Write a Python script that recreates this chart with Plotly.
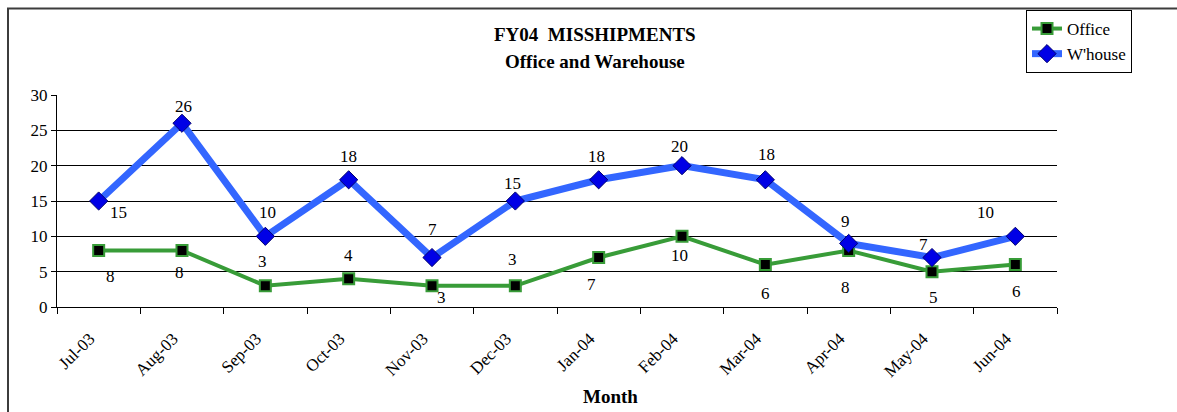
import plotly.graph_objects as go

months = ["Jul-03", "Aug-03", "Sep-03", "Oct-03", "Nov-03", "Dec-03",
          "Jan-04", "Feb-04", "Mar-04", "Apr-04", "May-04", "Jun-04"]
office = [8, 8, 3, 4, 3, 3, 7, 10, 6, 8, 5, 6]
warehouse = [15, 26, 10, 18, 7, 15, 18, 20, 18, 9, 7, 10]

# data-label offsets in pixels (xshift, yshift) - styling only
office_lbl = [(12, -26), (-3, -22), (-3, 24), (0, 23), (9, -12), (-3, 26),
              (-7, -27), (-3, -19), (0, -29), (-3, -37), (1, -26), (1, -27)]
wh_lbl = [(20, -11), (1, 17), (2, 24), (0, 23), (0, 28), (-3, 18),
          (-2, 23), (-3, 19), (1, 25), (-3, 22), (-9, 13), (-30, 24)]

SERIF = "Liberation Serif, Times New Roman, serif"

W, H = 1177, 412
fig = go.Figure()
fig.add_trace(go.Scatter(
    x=months, y=office, name="Office", mode="lines+markers",
    line=dict(color="rgb(56,156,56)", width=4),
    marker=dict(symbol="square", size=11, color="black",
                line=dict(color="rgb(56,156,56)", width=2)),
))
fig.add_trace(go.Scatter(
    x=months, y=warehouse, name="W'house", mode="lines+markers",
    line=dict(color="rgb(51,102,255)", width=7),
    marker=dict(symbol="diamond", size=14, color="rgb(0,0,230)",
                line=dict(color="rgb(0,0,110)", width=1)),
))

annotations = []
for m, v, (dx, dy) in zip(months, office, office_lbl):
    annotations.append(dict(x=m, y=v, text=str(v), showarrow=False,
                            xshift=dx, yshift=dy,
                            font=dict(family=SERIF, size=17, color="black")))
for m, v, (dx, dy) in zip(months, warehouse, wh_lbl):
    annotations.append(dict(x=m, y=v, text=str(v), showarrow=False,
                            xshift=dx, yshift=dy,
                            font=dict(family=SERIF, size=17, color="black")))

# titles
annotations.append(dict(xref="paper", yref="paper", x=0.538, y=(307 - 33) / 213,
                        text="<b>FY04\u00a0 MISSHIPMENTS</b>", showarrow=False,
                        xanchor="center", yanchor="middle",
                        font=dict(family=SERIF, size=19, color="black")))
annotations.append(dict(xref="paper", yref="paper", x=0.538, y=(307 - 60) / 213,
                        text="<b>Office and Warehouse</b>", showarrow=False,
                        xanchor="center", yanchor="middle",
                        font=dict(family=SERIF, size=19, color="black")))
annotations.append(dict(xref="paper", yref="paper", x=(610 - 57) / 1000,
                        y=(307 - 397) / 213,
                        text="<b>Month</b>", showarrow=False,
                        xanchor="center", yanchor="middle",
                        font=dict(family=SERIF, size=19, color="black")))

fig.update_layout(
    width=W, height=H,
    margin=dict(l=57, r=120, t=94, b=105),
    paper_bgcolor="white", plot_bgcolor="white",
    showlegend=True,
    legend=dict(x=(1026 - 57) / 1000, y=(307 - 10) / 213,
                xanchor="left", yanchor="top",
                bordercolor="black", borderwidth=1, bgcolor="white",
                font=dict(family=SERIF, size=17, color="black"),
                itemwidth=30, tracegroupgap=0),
    annotations=annotations,
    shapes=[dict(type="rect", xref="paper", yref="paper",
                 x0=(8 - 57) / 1000, x1=(1200 - 57) / 1000,
                 y0=(307 - 440) / 213, y1=(307 - 7) / 213,
                 line=dict(color="rgb(60,60,60)", width=2), layer="below")],
)

fig.update_xaxes(
    type="category", range=[-0.5, 11.5], tickson="boundaries",
    ticks="outside", ticklen=6, tickcolor="black", tickwidth=1,
    showline=True, linecolor="black", linewidth=1,
    showgrid=False, tickangle=-45, ticklabelstandoff=14, ticklabelshift=-9,
    tickfont=dict(family=SERIF, size=17, color="black"),
)
fig.update_yaxes(
    range=[0, 30], dtick=5, ticks="outside", ticklen=5, tickcolor="black",
    showline=True, linecolor="black", linewidth=1,
    showgrid=True, gridcolor="black", gridwidth=1, zeroline=False,
    tickfont=dict(family=SERIF, size=17, color="black"),
)

fig.write_html(
    "out.html",
    config={"displayModeBar": False},
    post_script="document.body.style.margin='0';document.body.style.overflow='hidden';",
)
